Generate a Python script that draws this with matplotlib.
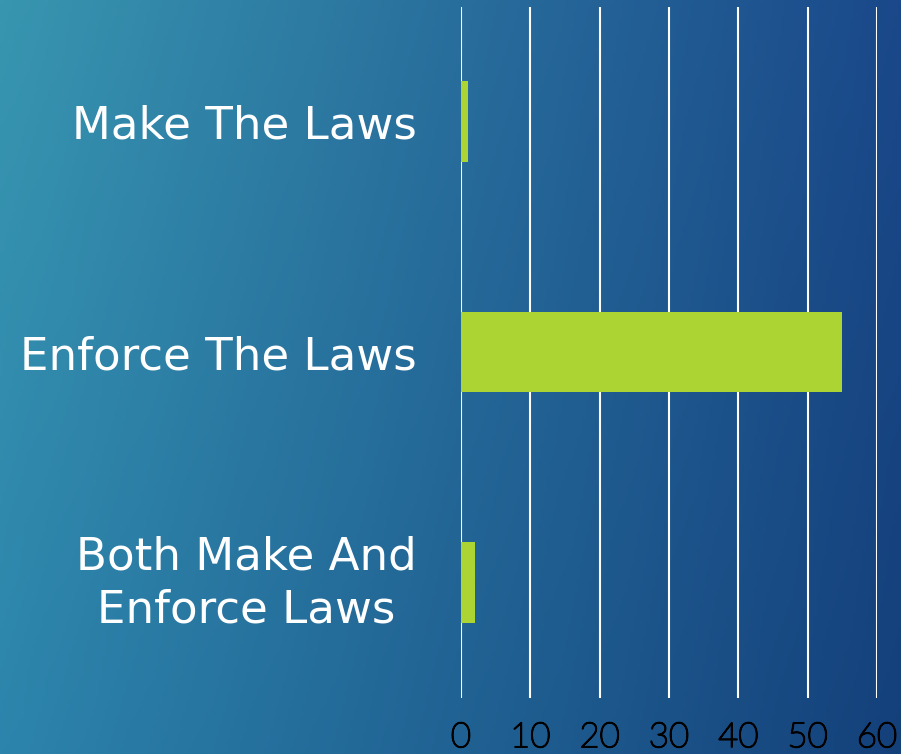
import numpy as np
import matplotlib
matplotlib.use('Agg')
import matplotlib.pyplot as plt
import matplotlib.patheffects as pe
from matplotlib.transforms import ScaledTranslation

# data
categories = ['Make The Laws', 'Enforce The Laws', 'Both Make And\nEnforce Laws']
values = [1, 55, 2]
xticks = [0, 10, 20, 30, 40, 50, 60]

W, H = 901, 754
fig = plt.figure(figsize=(W / 100, H / 100), dpi=100)

# background gradient (teal top-left -> dark blue right)
tl = np.array([56, 150, 176]) / 255
tr = np.array([26, 72, 138]) / 255
bl = np.array([44, 132, 172]) / 255
br = np.array([20, 64, 122]) / 255
u = np.linspace(0, 1, 300)[None, :, None]
v = np.linspace(0, 1, 250)[:, None, None]
grad = (1 - v) * ((1 - u) * tl + u * tr) + v * ((1 - u) * bl + u * br)
bg = fig.add_axes([0, 0, 1, 1], zorder=-1)
bg.imshow(grad, aspect='auto', extent=[0, 1, 0, 1])
bg.axis('off')

ax = fig.add_axes([461 / W, 1 - 697.5 / H, 416 / W, 691 / H])
ax.patch.set_alpha(0)

y = np.arange(len(categories))
ax.barh(y, values, height=0.35, color='#acd432', zorder=3)
ax.set_ylim(len(categories) - 0.5, -0.5)
ax.set_xlim(0, 60)
ax.set_xticks(xticks)
ax.grid(axis='x', color='white', linewidth=1.5, zorder=1)
ax.set_axisbelow(True)
for s in ax.spines.values():
    s.set_visible(False)

ax.set_yticks(y)
ax.set_yticklabels(categories, fontsize=32.5, color='white', family='DejaVu Sans',
                   linespacing=1.3, multialignment='center')
ax.tick_params(axis='y', length=0, pad=32)
# nudge the two-line label up a little so it sits on the bar centre
last = ax.get_yticklabels()[-1]
last.set_transform(last.get_transform() + ScaledTranslation(0, 6 / 72, fig.dpi_scale_trans))

ax.tick_params(axis='x', length=0, pad=17)
for lab in ax.get_xticklabels():
    lab.set_fontsize(25)
    lab.set_family('Lato')
    lab.set_weight('light')
    lab.set_color('#3a78a8')
    lab.set_path_effects([pe.Stroke(linewidth=1.2, foreground='black')])

fig.savefig('out.png', dpi=100)
